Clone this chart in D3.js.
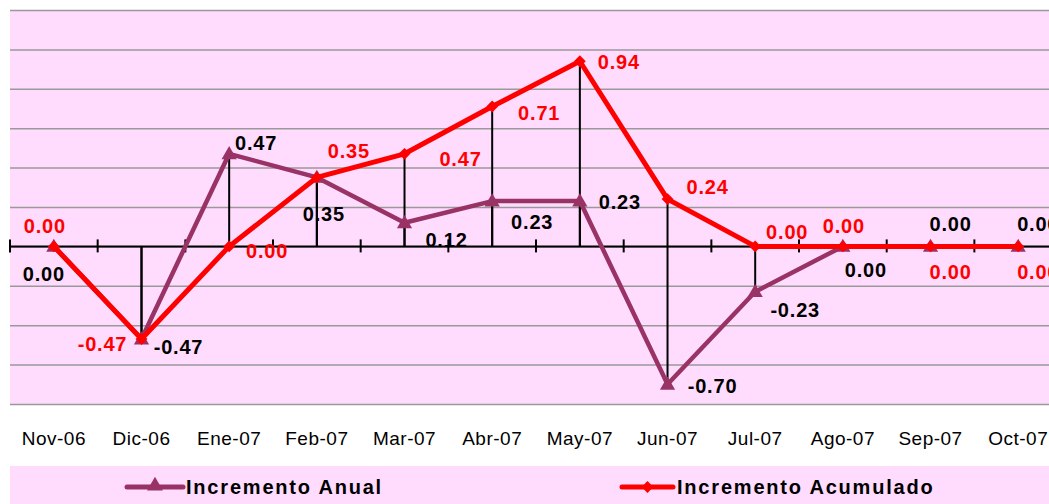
<!DOCTYPE html>
<html>
<head>
<meta charset="utf-8">
<script src="https://cdn.jsdelivr.net/npm/d3@7"></script>
<style>
  body { margin: 0; background: #fff; }
  svg { display: block; font-family: "Liberation Sans", Arial, sans-serif; }
</style>
</head>
<body>
<svg id="chart" width="1049" height="504"></svg>
<script>
// chart data
var months = ["Nov-06", "Dic-06", "Ene-07", "Feb-07", "Mar-07", "Abr-07",
              "May-07", "Jun-07", "Jul-07", "Ago-07", "Sep-07", "Oct-07"];
var anual =     [0.00, -0.47, 0.47, 0.35, 0.12, 0.23, 0.23, -0.70, -0.23, 0.00, 0.00, 0.00];
var acumulado = [0.00, -0.47, 0.00, 0.35, 0.47, 0.71, 0.94, 0.24, 0.00, 0.00, 0.00, 0.00];
var gridValues = [-0.8, -0.6, -0.4, -0.2, 0, 0.2, 0.4, 0.6, 0.8, 1.0, 1.2];
var seriesNames = ["Incremento Anual", "Incremento Acumulado"];

// label offsets (dx, dy) from each point, layout only
var anualLabelPos = [[-10, 28], [37, 8], [27, -11], [7, 37], [42, 17], [40, 21],
                     [40, 1], [45, 2], [40, 18], [23, 24], [20, -22], [20, -22]];
var acumLabelPos = [[-9, -20], [-39, 5], [38, 5], [32, -26], [56, 5], [47, 6],
                    [39, 1], [40, -12], [32, -14], [1, -20], [20, 26], [20, 26]];

var purple = "#993366", red = "#ff0000", pink = "#ffdcfd";
var plotLeft = 10, plotTop = 10, plotBottom = 404, W = 1049;

var svg = d3.select("#chart");

var x = d3.scaleBand()
    .domain(months)
    .range([plotLeft, plotLeft + 12 * 87.67])
    .padding(0);

var y = d3.scaleLinear()
    .domain([-0.8, 1.2])
    .range([plotBottom, plotTop]);

function cx(d, i) { return x(months[i]) + x.bandwidth() / 2; }

// plot background
svg.append("rect")
    .attr("x", plotLeft).attr("y", plotTop)
    .attr("width", W - plotLeft).attr("height", plotBottom - plotTop)
    .attr("fill", pink);

// gridlines
svg.append("g")
    .attr("transform", "translate(" + plotLeft + ",0)")
    .call(d3.axisRight(y).tickValues(gridValues).tickSize(W - plotLeft).tickFormat(""))
    .call(function (g) { g.select(".domain").remove(); })
    .selectAll("line")
    .attr("stroke", "#999")
    .attr("stroke-width", 1.5);

// drop lines to zero
var drop = svg.append("g").attr("stroke", "#000").attr("stroke-width", 2);
[anual, acumulado].forEach(function (vals) {
    drop.selectAll(null)
        .data(vals)
        .enter().append("line")
        .attr("x1", cx).attr("x2", cx)
        .attr("y1", function (d) { return y(d); })
        .attr("y2", y(0));
});

// zero axis with ticks between categories
svg.append("line")
    .attr("x1", plotLeft).attr("x2", W)
    .attr("y1", y(0)).attr("y2", y(0))
    .attr("stroke", "#000").attr("stroke-width", 2);

svg.append("g").selectAll("line")
    .data(d3.range(months.length + 1))
    .enter().append("line")
    .attr("x1", function (k) { return plotLeft + k * x.step(); })
    .attr("x2", function (k) { return plotLeft + k * x.step(); })
    .attr("y1", y(0) - 7).attr("y2", y(0) + 6)
    .attr("stroke", "#000").attr("stroke-width", 2);

// category labels
var xAxis = svg.append("g")
    .attr("transform", "translate(0,431)")
    .call(d3.axisBottom(x).tickSize(0).tickPadding(0));
xAxis.select(".domain").remove();
xAxis.selectAll("text")
    .attr("font-family", "Liberation Sans, Arial, sans-serif")
    .attr("font-size", 19)
    .attr("letter-spacing", "0.5px")
    .attr("fill", "#000")
    .attr("dy", "0.71em");

// lines
var line = d3.line()
    .x(function (d, i) { return cx(d, i); })
    .y(function (d) { return y(d); });

svg.append("path")
    .datum(anual)
    .attr("d", line)
    .attr("fill", "none")
    .attr("stroke", purple)
    .attr("stroke-width", 4.5)
    .attr("stroke-linejoin", "round");

svg.append("g").selectAll("path")
    .data(anual)
    .enter().append("path")
    .attr("d", d3.symbol(d3.symbolTriangle).size(100))
    .attr("transform", function (d, i) { return "translate(" + cx(d, i) + "," + (y(d) + 1) + ")"; })
    .attr("fill", purple);

svg.append("path")
    .datum(acumulado)
    .attr("d", line)
    .attr("fill", "none")
    .attr("stroke", red)
    .attr("stroke-width", 5)
    .attr("stroke-linejoin", "round");

svg.append("g").selectAll("path")
    .data(acumulado)
    .enter().append("path")
    .attr("d", d3.symbol(d3.symbolSquare).size(70))
    .attr("transform", function (d, i) { return "translate(" + cx(d, i) + "," + y(d) + ") rotate(45)"; })
    .attr("fill", red);

// data labels (plain hyphen for negatives, like the original)
var fmt = function (v) { return d3.format(".2f")(v).replace("\u2212", "-"); };

function addLabels(vals, pos, color) {
    svg.append("g").selectAll("text")
        .data(vals)
        .enter().append("text")
        .attr("x", function (d, i) { return cx(d, i) + pos[i][0]; })
        .attr("y", function (d, i) { return y(d) + pos[i][1]; })
        .attr("text-anchor", "middle")
        .attr("dominant-baseline", "central")
        .attr("font-size", 20)
        .attr("font-weight", "bold")
        .attr("letter-spacing", "0.8px")
        .attr("fill", color)
        .text(fmt);
}
addLabels(anual, anualLabelPos, "#000");
addLabels(acumulado, acumLabelPos, red);

// legend
svg.append("rect")
    .attr("x", plotLeft).attr("y", 466)
    .attr("width", W - plotLeft).attr("height", 38)
    .attr("fill", pink);

var legendItems = [
    { name: seriesNames[0], color: purple, x1: 127, x2: 183, tx: 186, sym: "tri" },
    { name: seriesNames[1], color: red, x1: 622, x2: 673, tx: 677, sym: "dia" }
];
var lg = svg.append("g").selectAll("g")
    .data(legendItems)
    .enter().append("g");
lg.append("line")
    .attr("x1", function (d) { return d.x1; })
    .attr("x2", function (d) { return d.x2; })
    .attr("y1", 487).attr("y2", 487)
    .attr("stroke", function (d) { return d.color; })
    .attr("stroke-width", 5)
    .attr("stroke-linecap", "round");
lg.append("path")
    .attr("d", function (d) {
        return d.sym === "tri" ? d3.symbol(d3.symbolTriangle).size(110)() : d3.symbol(d3.symbolSquare).size(70)();
    })
    .attr("transform", function (d) {
        var mx = (d.x1 + d.x2) / 2;
        return d.sym === "tri" ? "translate(" + mx + ",486)" : "translate(" + mx + ",487) rotate(45)";
    })
    .attr("fill", function (d) { return d.color; });
lg.append("text")
    .attr("x", function (d) { return d.tx; })
    .attr("y", 494)
    .attr("font-size", 20)
    .attr("font-weight", "bold")
    .attr("letter-spacing", "1.8px")
    .attr("fill", "#000")
    .text(function (d) { return d.name; });
</script>
</body>
</html>
